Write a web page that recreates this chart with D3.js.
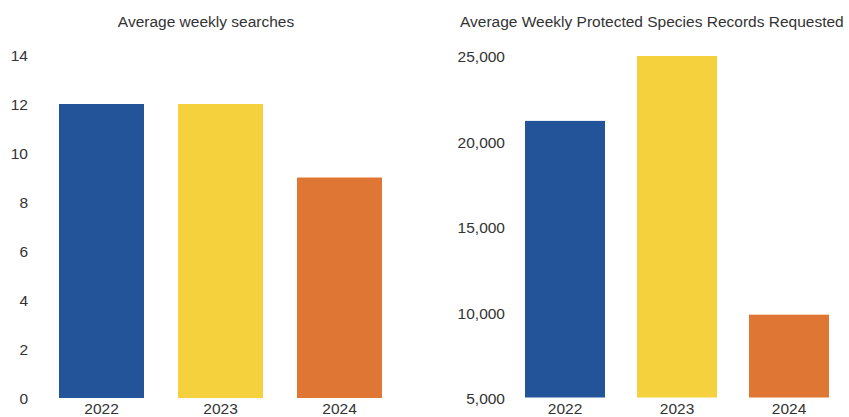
<!DOCTYPE html>
<html><head><meta charset="utf-8">
<script src="https://cdn.jsdelivr.net/npm/d3@7"></script>
<style>body{margin:0;background:#fff}svg{display:block;font-family:"Liberation Sans",Arial,sans-serif}</style>
</head><body><svg id="c" width="849" height="417"></svg>
<script>
const years = ["2022","2023","2024"];
const searches = [12, 12, 9];
const records = [21200, 25000, 9850];
const colors = ["#23549A","#F5D23D","#DF7633"];
const searchTicks = [0,2,4,6,8,10,12,14];
const recordTicks = [5000,10000,15000,20000,25000];

const svg = d3.select("#c");
const FONT = "Liberation Sans, Arial, sans-serif";

function panel(o){
  const g = svg.append("g");
  const x = d3.scaleBand().domain(years).range([o.x0,o.x1]).paddingInner(0.2857).paddingOuter(0);
  const y = d3.scaleLinear().domain(o.domain).range(o.yr);
  g.selectAll("rect").data(o.values).join("rect")
    .attr("x",(d,i)=>x(years[i])).attr("width",x.bandwidth())
    .attr("y",d=>y(d)).attr("height",d=>y(o.domain[0])-y(d))
    .attr("fill",(d,i)=>colors[i]);
  const ya = g.append("g").attr("transform",`translate(${o.yAxisX},1)`)
    .call(d3.axisLeft(y).tickValues(o.ticks).tickSize(0).tickPadding(0).tickFormat(o.fmt));
  ya.select(".domain").remove();
  ya.selectAll("text").attr("fill","#333").style("font-size","15.5px").style("font-family",FONT);
  const xa = g.append("g").attr("transform",`translate(0,${o.yr[0]})`)
    .call(d3.axisBottom(x).tickSize(0).tickPadding(5));
  xa.select(".domain").remove();
  xa.selectAll("text").attr("fill","#333").style("font-size","15.5px").style("font-family",FONT);
  g.append("text").attr("x",o.titleX).attr("y",27).attr("text-anchor",o.titleAnchor)
    .attr("fill","#333").style("font-size","15.5px").text(o.title);
}

panel({x0:59,x1:382,yr:[398,55],domain:[0,14],values:searches,ticks:searchTicks,fmt:d3.format("d"),yAxisX:28,
  title:"Average weekly searches",titleX:206,titleAnchor:"middle"});
panel({x0:525,x1:829,yr:[397.5,56],domain:[5000,25000],values:records,ticks:recordTicks,fmt:d3.format(","),yAxisX:505,
  title:"Average Weekly Protected Species Records Requested",titleX:460,titleAnchor:"start"});
</script></body></html>
